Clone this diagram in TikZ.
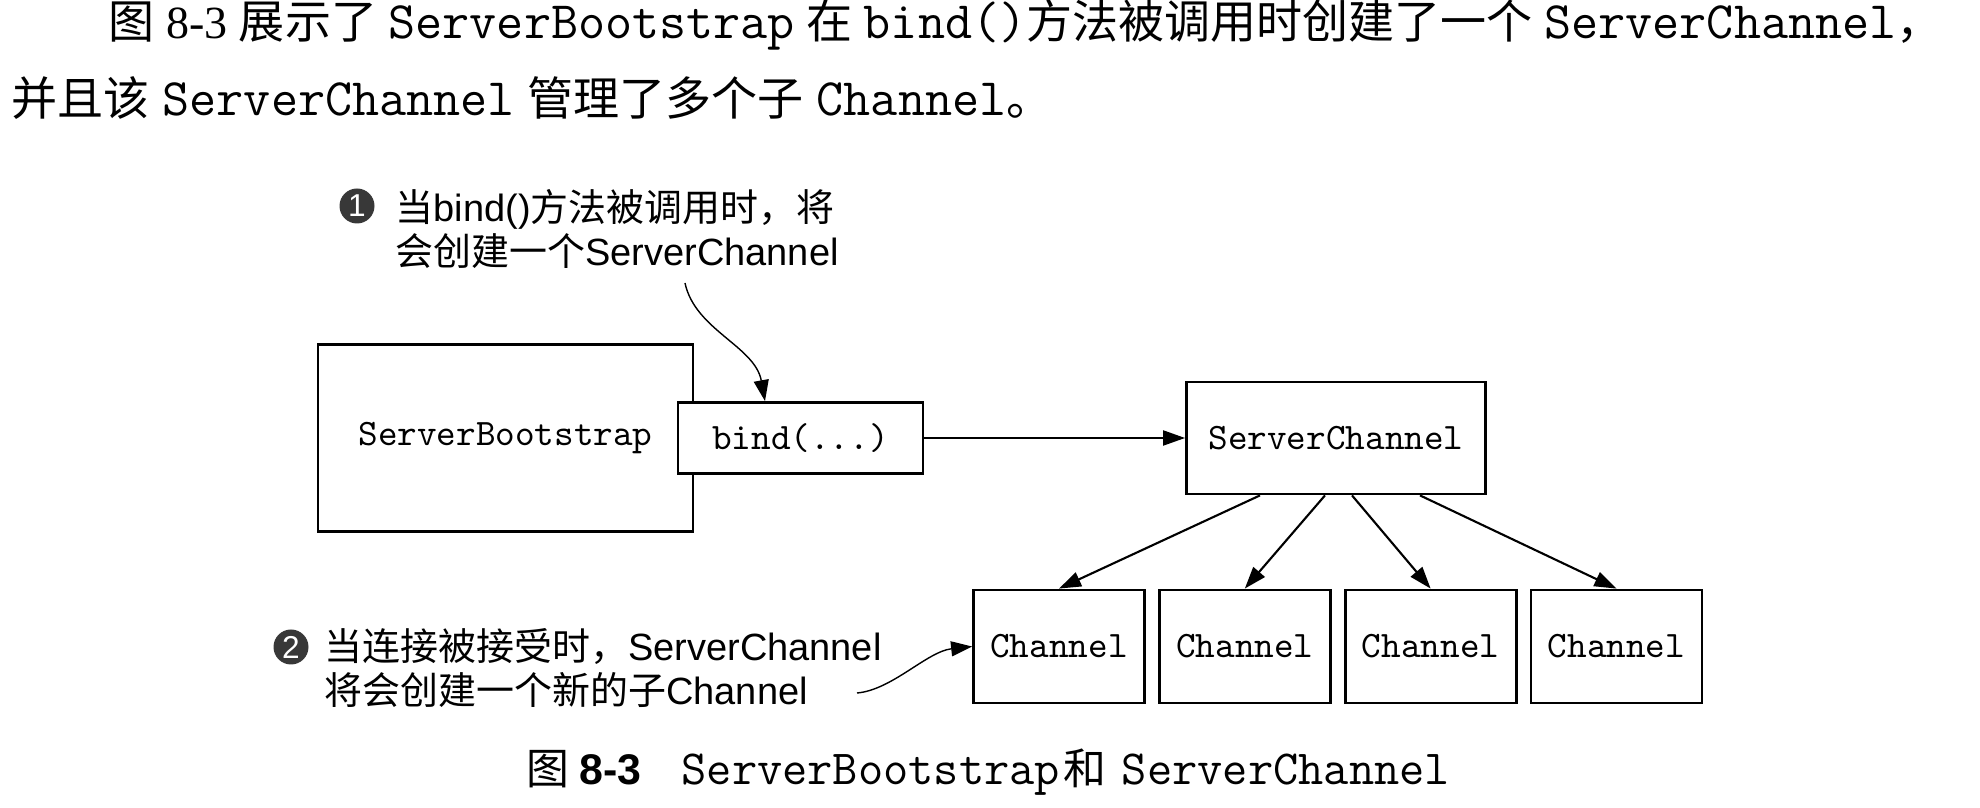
\documentclass[tikz,border=0pt]{standalone}
\usepackage{fontspec}
\setmainfont{Liberation Sans}
\setmonofont[Scale=1.1429]{Latin Modern Mono}
\newfontfamily\cjk{Noto Sans CJK SC}
\newfontfamily\tms{Liberation Serif}
\newcommand\zh[1]{{\cjk #1}}
\newcommand\code[1]{{\ttfamily #1}}
\usetikzlibrary{arrows.meta,positioning}

\begin{document}
\begin{tikzpicture}[x=0.1mm, y=-0.1mm,
        box/.style={draw, line width=0.8pt, fill=white, inner sep=0pt,
            font=\ttfamily\fontsize{9.3pt}{11pt}\selectfont},
        conn/.style={-{Triangle[length=2.2mm, width=1.5mm]}, line width=0.6pt},
        note/.style={-{Triangle[length=2.1mm, width=1.5mm]}, line width=0.4pt},
        numdot/.style={circle, fill=black!78, text=white, inner sep=0pt,
            minimum size=3.5mm, font=\fontsize{9pt}{9pt}\selectfont},
        notetext/.style={anchor=west, align=left, inner sep=0pt,
            font=\fontsize{10.8pt}{12.7pt}\selectfont},
        paratext/.style={anchor=west, inner sep=0pt,
            font=\fontsize{13.1pt}{16pt}\selectfont}]
        \useasboundingbox (0,0) rectangle (1980,808);

        \node[paratext] (line1) at (108,25) {\spaceskip=0.5mm plus 3mm minus 0.3mm
            \makebox[183.4mm][s]{\zh{图} {\tms 8-3} \zh{展示了} \code{ServerBootstrap} \zh{在} \code{bind()}\zh{方法被调用时创建了一个} \code{ServerChannel}\zh{，}}};
        \node[paratext] (line2) at (11,98) {\zh{并且该} \code{ServerChannel} \zh{管理了多个子} \code{Channel}\zh{。}};

        \node[box, minimum width=37.5mm, minimum height=18.7mm] (boot) at (505.5,438) {ServerBootstrap};
        \node[box, minimum width=24.5mm, minimum height=7.1mm] (bind) at (800.5,438) {bind(...)};
        \node[box, minimum width=29.9mm, minimum height=11.2mm] (schan) at (1336,438) {ServerChannel};

        \node[box, minimum width=17.1mm, minimum height=11.3mm] (ch1) at (1059,646.5) {Channel};
        \node[box, minimum width=17.1mm, minimum height=11.3mm, right=1.2mm of ch1] (ch2) {Channel};
        \node[box, minimum width=17.1mm, minimum height=11.3mm, right=1.2mm of ch2] (ch3) {Channel};
        \node[box, minimum width=17.1mm, minimum height=11.3mm, right=1.2mm of ch3] (ch4) {Channel};

        \draw[conn] (bind) -- (schan);
        \foreach \dx/\c in {-7.6/ch1, -1.1/ch2, 1.6/ch3, 8.4/ch4}
            \draw[conn] ([xshift=\dx mm]schan.south) -- (\c.north);

        \node[numdot] (dot1) at (357,206) {1};
        \node[notetext] (note1) at (395,229) {\zh{当}bind()\zh{方法被调用时，将}\\\zh{会创建一个}ServerChannel};
        \coordinate (tail1) at (685,283);
        \draw[note] (tail1) .. controls +(10,47) and +(-10,-55) .. ([xshift=-3.55mm]bind.north);

        \node[numdot] (dot2) at (291,647) {2};
        \node[notetext] (note2) at (324,668) {\zh{当连接被接受时，}ServerChannel\\\zh{将会创建一个新的子}Channel};
        \coordinate (tail2) at (857,693);
        \draw[note] (tail2) .. controls +(35,-3) and +(-45,5) .. (ch1.west);

        \node[anchor=west, inner sep=0pt, font=\fontsize{12.2pt}{14pt}\selectfont] (caption) at (526,772)
            {\zh{图}\hspace{1mm}\textbf{8-3}\hspace{4mm}\code{ServerBootstrap}\hspace{0.3mm}\zh{和}\hspace{1.6mm}\code{ServerChannel}};
    \end{tikzpicture}
\end{document}
